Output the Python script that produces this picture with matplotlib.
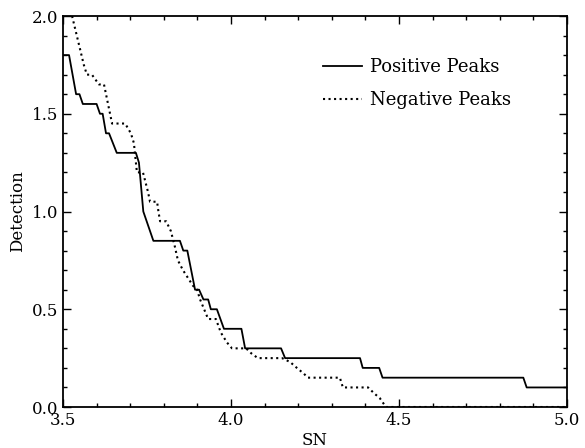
import matplotlib
matplotlib.use("Agg")
import matplotlib.pyplot as plt
from matplotlib.ticker import MultipleLocator

plt.rcParams['font.family'] = ['DejaVu Serif']
plt.rcParams['mathtext.fontset'] = 'dejavuserif'

pos_sn = [3.500, 3.518, 3.539, 3.549, 3.559, 3.600, 3.610, 3.618, 3.628, 3.637,
          3.660, 3.717, 3.726, 3.739, 3.769, 3.848, 3.858, 3.870, 3.893, 3.905,
          3.918, 3.932, 3.940, 3.958, 3.979, 4.031, 4.042, 4.149, 4.161, 4.384,
          4.392, 4.441, 4.451, 4.870, 4.880, 5.000]
pos_det = [1.80, 1.80, 1.60, 1.60, 1.55, 1.55, 1.50, 1.50, 1.40, 1.40,
           1.30, 1.30, 1.25, 1.00, 0.85, 0.85, 0.80, 0.80, 0.60, 0.60,
           0.55, 0.55, 0.50, 0.50, 0.40, 0.40, 0.30, 0.30, 0.25, 0.25,
           0.20, 0.20, 0.15, 0.15, 0.10, 0.10]

neg_sn = [3.527, 3.562, 3.571, 3.586, 3.607, 3.622, 3.646, 3.685, 3.702, 3.711,
          3.717, 3.720, 3.738, 3.753, 3.759, 3.780, 3.784, 3.789, 3.807, 3.821,
          3.833, 3.842, 3.857, 3.872, 3.887, 3.899, 3.908, 3.920, 3.932, 3.955,
          3.970, 3.988, 4.003, 4.045, 4.060, 4.080, 4.152, 4.176, 4.196, 4.217,
          4.229, 4.324, 4.333, 4.408, 4.426, 4.443, 4.461, 5.000]
neg_det = [2.00, 1.75, 1.70, 1.70, 1.65, 1.65, 1.45, 1.45, 1.40, 1.35,
           1.25, 1.20, 1.20, 1.10, 1.05, 1.05, 1.00, 0.95, 0.95, 0.90,
           0.82, 0.75, 0.70, 0.66, 0.62, 0.60, 0.55, 0.50, 0.45, 0.45,
           0.38, 0.33, 0.30, 0.30, 0.275, 0.25, 0.25, 0.23, 0.20, 0.17,
           0.15, 0.15, 0.10, 0.10, 0.07, 0.045, 0.00, 0.00]

fig = plt.figure(figsize=(5.85, 4.48), dpi=100)
ax = fig.add_axes([63/585, 41/448, 504/585, 391/448])

ax.plot(pos_sn, pos_det, color='black', lw=1.3, linestyle='-', label='Positive Peaks')
ax.plot(neg_sn, neg_det, color='black', lw=1.5, linestyle=':', label='Negative Peaks')

ax.set_xlim(3.5, 5.0)
ax.set_ylim(0.0, 2.0)
ax.xaxis.set_major_locator(MultipleLocator(0.5))
ax.xaxis.set_minor_locator(MultipleLocator(0.1))
ax.yaxis.set_major_locator(MultipleLocator(0.5))
ax.yaxis.set_minor_locator(MultipleLocator(0.1))
ax.tick_params(which='both', direction='in', top=True, right=True, labelsize=12, width=1.0)
ax.tick_params(which='major', length=6)
ax.tick_params(which='minor', length=3)
for s in ax.spines.values():
    s.set_linewidth(1.3)

ax.set_xlabel('SN', fontsize=12, labelpad=2)
ax.set_ylabel('Detection', fontsize=12)

ax.legend(loc='upper left', bbox_to_anchor=(0.516, 0.893), frameon=False, fontsize=13,
          handlelength=2.15, labelspacing=0.85, borderpad=0, borderaxespad=0,
          handletextpad=0.45)

fig.savefig('out.png', dpi=100)
